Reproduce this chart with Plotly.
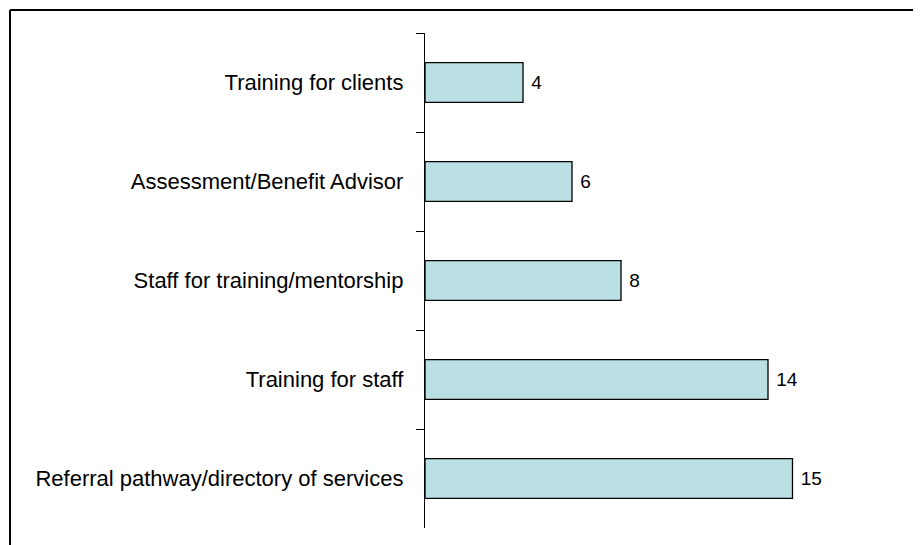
import plotly.graph_objects as go

categories = ["Training for clients", "Assessment/Benefit Advisor", "Staff for training/mentorship",
              "Training for staff", "Referral pathway/directory of services"]
values = [4, 6, 8, 14, 15]

W, H = 921, 545
OFF = 8  # page body margin
# desired window-pixel positions of plot area
AX_L, AX_T, AX_B, AX_R = 425, 33, 528, 915
L = AX_L - OFF
T = AX_T - OFF
B = H - (AX_B - OFF)
R = W - (AX_R - OFF)
pw = W - L - R
ph = H - T - B

def px_x(p):
    return (p - AX_L) / pw

def px_y(p):
    return (AX_B - p) / ph

fig = go.Figure(go.Bar(
    x=values, y=categories, orientation="h",
    width=0.4,
    marker=dict(color="#BBE0E3", line=dict(color="#000000", width=1.3)),
    text=[" " + str(v) for v in values], textposition="outside",
    textfont=dict(family="Liberation Sans, Arial", size=19, color="#000000"),
    cliponaxis=False,
))

fig.update_layout(
    width=W, height=H,
    margin=dict(l=L, r=R, t=T, b=B, pad=0),
    paper_bgcolor="white", plot_bgcolor="white",
    showlegend=False,
    font=dict(family="Liberation Sans, Arial", size=22, color="#000000"),
    xaxis=dict(range=[0, pw / 24.5], visible=False, showgrid=False, zeroline=False),
    yaxis=dict(autorange="reversed", showline=True, linecolor="#000000", linewidth=1.3,
               ticks="outside", tickson="boundaries", ticklen=8, tickcolor="#000000",
               tickwidth=1.3, showgrid=False, zeroline=False, ticklabelstandoff=16,
               tickfont=dict(family="Liberation Sans, Arial", size=22, color="#000000")),
    shapes=[
        dict(type="line", xref="paper", yref="paper", x0=px_x(10), x1=px_x(930), y0=px_y(10), y1=px_y(10),
             line=dict(color="#000000", width=2)),
        dict(type="line", xref="paper", yref="paper", x0=px_x(10), x1=px_x(10), y0=px_y(10), y1=px_y(560),
             line=dict(color="#000000", width=2)),
    ],
)

fig.write_html("out.html")
